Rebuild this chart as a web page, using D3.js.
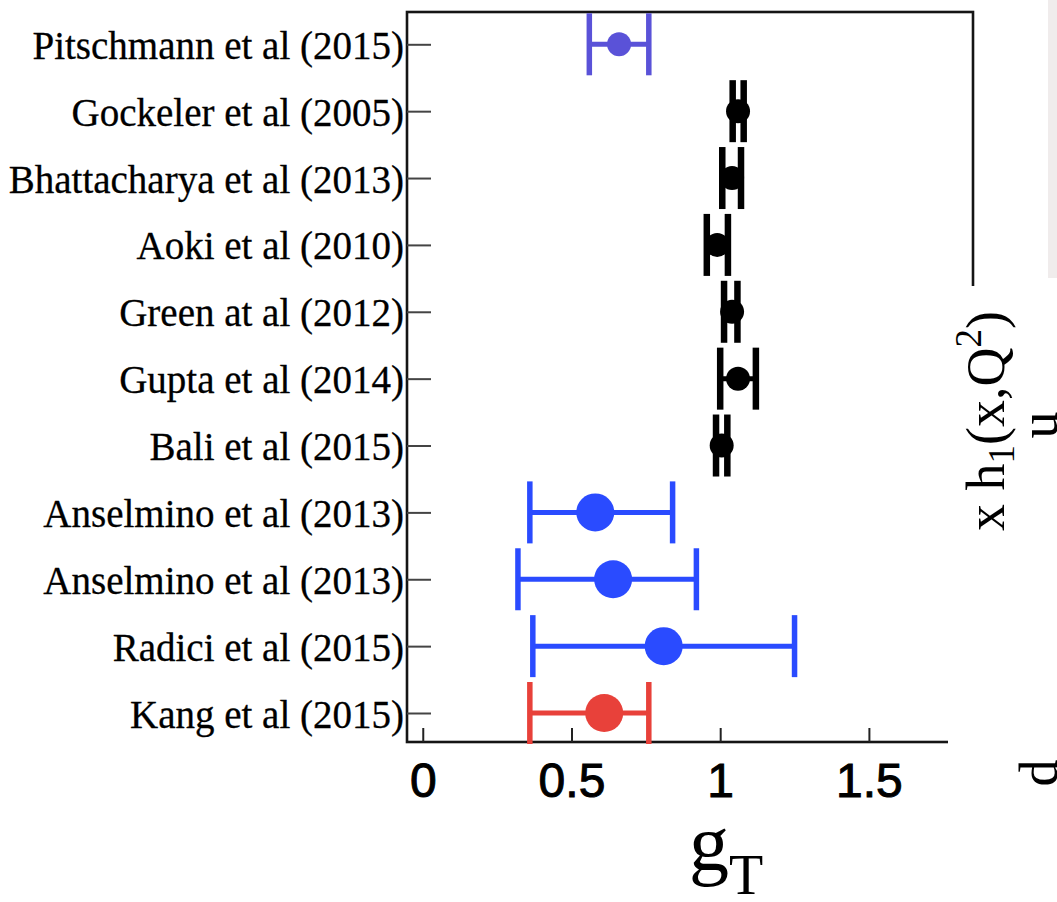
<!DOCTYPE html>
<html>
<head>
<meta charset="utf-8">
<script src="https://cdn.jsdelivr.net/npm/d3@7"></script>
<style>
  html, body { margin: 0; padding: 0; background: #fff; }
  svg { display: block; }
</style>
</head>
<body>
<svg id="chart" width="1057" height="902"></svg>
<script>
// Tensor charge g_T: determinations and lattice results
const studies = [
  "Pitschmann et al (2015)",
  "Gockeler et al (2005)",
  "Bhattacharya et al (2013)",
  "Aoki et al (2010)",
  "Green at al (2012)",
  "Gupta et al (2014)",
  "Bali et al (2015)",
  "Anselmino et al (2013)",
  "Anselmino et al (2013) ",
  "Radici et al (2015)",
  "Kang et al (2015)"
];
const centralValues = [0.66, 1.06, 1.04, 0.99, 1.04, 1.06, 1.005, 0.58, 0.64, 0.81, 0.61];
const lowerValues   = [0.56, 1.042, 1.007, 0.955, 1.013, 1.0, 0.986, 0.36, 0.32, 0.37, 0.36];
const upperValues   = [0.76, 1.079, 1.07, 1.026, 1.058, 1.12, 1.024, 0.84, 0.92, 1.25, 0.76];
const groups = ["dse", "lattice", "lattice", "lattice", "lattice", "lattice", "lattice",
                "fit", "fit", "fit", "fit-tmd"];
const xTickValues = [0, 0.5, 1, 1.5];
const xTickLabels = ["0", "0.5", "1", "1.5"];

const groupColor = { dse: "#5a52d8", lattice: "#000000", fit: "#2a4bff", "fit-tmd": "#e8413a" };
const groupRadius = { dse: 12, lattice: 12, fit: 19, "fit-tmd": 19 };

const svg = d3.select("#chart");
const frame = { left: 407, top: 12, right: 973, bottom: 742 };
const serif = "'Liberation Serif', 'Times New Roman', serif";

const x = d3.scaleLinear().domain([-0.053, 1.85]).range([frame.left, frame.right]);
const y = d3.scalePoint().domain(studies).range([44.3, 713]);

const points = studies.map((s, i) => ({
  study: s, c: centralValues[i], lo: lowerValues[i], hi: upperValues[i], g: groups[i]
}));

// frame
svg.append("rect")
  .attr("x", frame.left).attr("y", frame.top)
  .attr("width", frame.right - frame.left).attr("height", frame.bottom - frame.top)
  .attr("fill", "none").attr("stroke", "#151515").attr("stroke-width", 2.6);

// y axis with study labels
const yAxis = d3.axisLeft(y).tickSize(-24).tickPadding(3).tickFormat(d => d.trim());
const yG = svg.append("g").attr("transform", `translate(${frame.left},0)`).call(yAxis);
yG.select(".domain").remove();
yG.selectAll(".tick line").attr("stroke", "#444").attr("stroke-width", 2);
yG.selectAll(".tick text")
  .attr("font-family", serif)
  .attr("font-size", 39)
  .attr("fill", "#000")
  .attr("stroke", "#000").attr("stroke-width", 0.3)
  .attr("dy", "0.36em");

// x axis
const xAxis = d3.axisBottom(x).tickValues(xTickValues).tickSize(-14).tickPadding(21)
  .tickFormat((d, i) => xTickLabels[i]);
const xG = svg.append("g").attr("transform", `translate(0,${frame.bottom})`).call(xAxis);
xG.select(".domain").remove();
xG.selectAll(".tick line").attr("stroke", "#222").attr("stroke-width", 2);
xG.selectAll(".tick text")
  .attr("font-family", "'Liberation Sans', Arial, sans-serif")
  .attr("font-size", 48)
  .attr("fill", "#000")
  .attr("stroke", "#000").attr("stroke-width", 1);

// error bars and markers
const capHalf = 31;
const bars = svg.append("g").selectAll("g").data(points).join("g")
  .attr("stroke", d => groupColor[d.g]).attr("fill", d => groupColor[d.g]);
bars.append("line")
  .attr("x1", d => x(d.lo)).attr("x2", d => x(d.hi))
  .attr("y1", d => y(d.study)).attr("y2", d => y(d.study))
  .attr("stroke-width", 5);
bars.append("line")
  .attr("x1", d => x(d.lo)).attr("x2", d => x(d.lo))
  .attr("y1", d => y(d.study) - capHalf).attr("y2", d => y(d.study) + capHalf)
  .attr("stroke-width", d => d.g === "lattice" ? 6.5 : 5.5);
bars.append("line")
  .attr("x1", d => x(d.hi)).attr("x2", d => x(d.hi))
  .attr("y1", d => y(d.study) - capHalf).attr("y2", d => y(d.study) + capHalf)
  .attr("stroke-width", d => d.g === "lattice" ? 6.5 : 5.5);
bars.append("circle")
  .attr("cx", d => x(d.c)).attr("cy", d => y(d.study))
  .attr("r", d => groupRadius[d.g])
  .attr("stroke", "none");

// x axis title g_T
const title = svg.append("text")
  .attr("x", 689).attr("y", 870)
  .attr("font-family", serif)
  .attr("font-size", 80).attr("fill", "#000");
title.append("tspan").text("g");
title.append("tspan").attr("font-size", 56).attr("dy", 24).text("T");

// neighbouring panel overlapping the right edge
svg.append("rect").attr("x", 948).attr("y", 286).attr("width", 109).attr("height", 616).attr("fill", "#fff");
svg.append("rect").attr("x", 1048).attr("y", 0).attr("width", 9).attr("height", 278).attr("fill", "#f0ecec");

const side = svg.append("text")
  .attr("transform", "translate(1004,531) rotate(-90)")
  .attr("font-family", serif).attr("font-size", 54).attr("fill", "#000");
side.append("tspan").text("x h");
side.append("tspan").attr("font-size", 37).attr("dy", 10).text("1");
side.append("tspan").attr("dy", -10).text("(x,Q");
side.append("tspan").attr("font-size", 37).attr("dy", -23).text("2");
side.append("tspan").attr("dy", 23).text(")");

svg.append("text")
  .attr("transform", "translate(1057,425) rotate(-90)")
  .attr("text-anchor", "middle")
  .attr("font-family", serif).attr("font-size", 54).attr("fill", "#000")
  .text("u");
svg.append("text")
  .attr("transform", "translate(1057,773) rotate(-90)")
  .attr("text-anchor", "middle")
  .attr("font-family", serif).attr("font-size", 54).attr("fill", "#000")
  .text("d");
</script>
</body>
</html>
